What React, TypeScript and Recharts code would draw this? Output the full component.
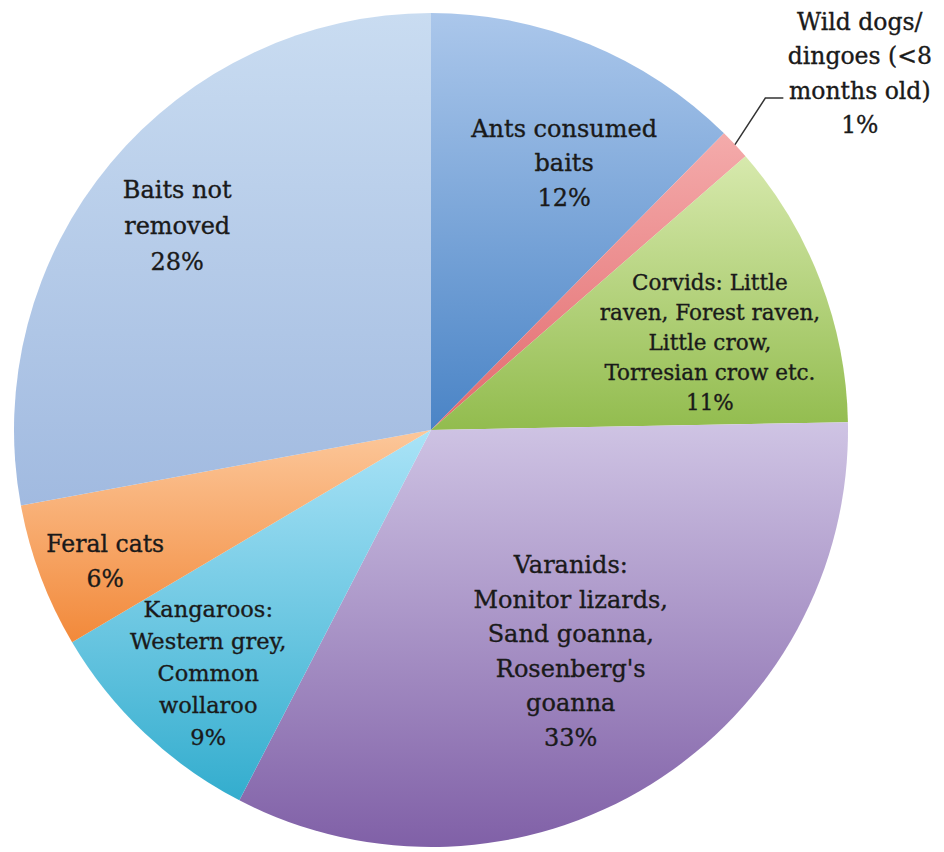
import React from 'react';
import { PieChart, Pie, Cell } from 'recharts';

const categories = [
  'Ants consumed baits',
  'Wild dogs/dingoes (<8 months old)',
  'Corvids: Little raven, Forest raven, Little crow, Torresian crow etc.',
  "Varanids: Monitor lizards, Sand goanna, Rosenberg's goanna",
  'Kangaroos: Western grey, Common wollaroo',
  'Feral cats',
  'Baits not removed',
];

const shares = [12.4, 1.2, 11.1, 32.9, 8.9, 5.6, 27.9];

const labelLines = [
  ['Ants consumed', 'baits'],
  ['Wild dogs/', 'dingoes (<8', 'months old)'],
  ['Corvids: Little', 'raven, Forest raven,', 'Little crow,', 'Torresian crow etc.'],
  ['Varanids:', 'Monitor lizards,', 'Sand goanna,', "Rosenberg's", 'goanna'],
  ['Kangaroos:', 'Western grey,', 'Common', 'wollaroo'],
  ['Feral cats'],
  ['Baits not', 'removed'],
];

const data = categories.map((name, i) => ({ name, value: shares[i] }));

// top -> bottom gradient colours per slice
const gradients = [
  ['#abc7eb', '#4a84c6'],
  ['#f4abab', '#e26a6d'],
  ['#d7e9ad', '#92bc4e'],
  ['#cfc4e4', '#8060a7'],
  ['#aae3f7', '#33adce'],
  ['#fcc79a', '#f2893a'],
  ['#c9dcf1', '#a1bae0'],
];

// label placement: radius factor, clockwise angle nudge (deg), font size, line height
const labelStyle = [
  { r: 0.698, off: 4.9, size: 24, lh: 34.5 },
  { r: 1.325, off: 4.1, size: 23.5, lh: 34.5 },
  { r: 0.696, off: 5.0, size: 21.5, lh: 30 },
  { r: 0.644, off: 0.5, size: 24, lh: 34.5 },
  { r: 0.805, off: -1.8, size: 22.5, lh: 32 },
  { r: 0.85, off: -2.7, size: 23.5, lh: 35 },
  { r: 0.769, off: -2.1, size: 24, lh: 36 },
];

const FONT = '"DejaVu Serif", serif';

const polar = (cx: number, cy: number, r: number, deg: number) => ({
  x: cx + r * Math.sin((deg * Math.PI) / 180),
  y: cy - r * Math.cos((deg * Math.PI) / 180),
});

const renderLabel = (props: any) => {
  const { cx, cy, midAngle, outerRadius, index, value } = props;
  const st = labelStyle[index];
  const theta = 90 - midAngle;
  const p = polar(cx, cy, outerRadius * st.r, theta + st.off);
  const lines = [...labelLines[index], `${Math.round(value)}%`];
  const n = lines.length;
  let leader = null;
  if (index === 1) {
    const a = polar(cx, cy, outerRadius, theta);
    const b = polar(cx, cy, outerRadius * 1.13, theta - 1.6);
    leader = (
      <polyline
        points={`${a.x},${a.y} ${b.x},${b.y} ${b.x + 18},${b.y}`}
        fill="none"
        stroke="#333"
        strokeWidth={1.5}
      />
    );
  }
  return (
    <g key={`lbl-${index}`}>
      {leader}
      <text
        x={p.x}
        y={p.y}
        textAnchor="middle"
        fontFamily={FONT}
        fontSize={st.size}
        fill="#1a1a1a"
        stroke="#1a1a1a"
        strokeWidth={0.35}
      >
        {lines.map((t, i) => (
          <tspan key={i} x={p.x} y={p.y + (i - (n - 1) / 2) * st.lh}>
            {t}
          </tspan>
        ))}
      </text>
    </g>
  );
};

export default function App() {
  return (
    <div style={{ position: 'absolute', left: 0, top: 0, background: '#fff' }}>
      <PieChart width={944} height={852} margin={{ top: 0, right: 0, bottom: 0, left: 0 }}>
        <defs>
          {gradients.map(([top, bottom], i) => (
            <linearGradient key={i} id={`grad${i}`} x1="0" y1="0" x2="0" y2="1">
              <stop offset="0%" stopColor={top} />
              <stop offset="100%" stopColor={bottom} />
            </linearGradient>
          ))}
        </defs>
        <Pie
          data={data}
          dataKey="value"
          nameKey="name"
          cx={431}
          cy={430}
          outerRadius={417}
          startAngle={90}
          endAngle={-270}
          stroke="none"
          label={renderLabel}
          labelLine={false}
          isAnimationActive={false}
        >
          {data.map((d, i) => (
            <Cell key={d.name} fill={`url(#grad${i})`} />
          ))}
        </Pie>
      </PieChart>
    </div>
  );
}
